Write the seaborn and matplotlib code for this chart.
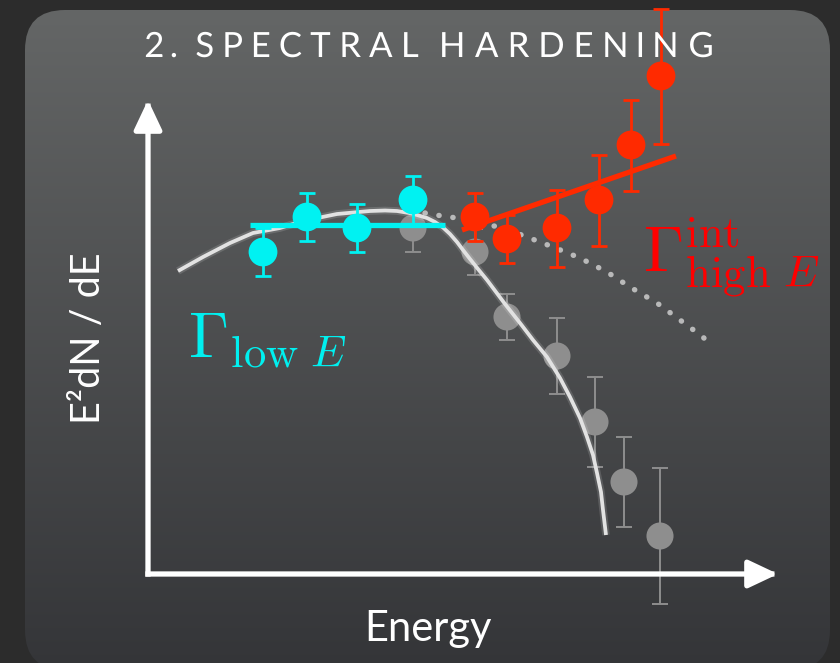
import numpy as np
import pandas as pd
import matplotlib
matplotlib.use("Agg")
import matplotlib.pyplot as plt
import seaborn as sns
from matplotlib.patches import FancyBboxPatch, FancyArrowPatch
from matplotlib.patheffects import AbstractPathEffect
from matplotlib.path import Path
from matplotlib.transforms import IdentityTransform

sns.set_theme(style="white")
plt.rcParams["font.family"] = ["Lato", "DejaVu Sans"]
plt.rcParams["mathtext.fontset"] = "cm"

W, H, DPI = 840, 663, 100

# Spectrum in arbitrary units: energy along x, E^2 dN/dE along y
low_energy = [11.5, 15.9, 20.9, 26.5]
low_flux = [32.2, 35.7, 34.6, 37.4]
low_err = [2.4, 2.4, 2.4, 2.4]

obs_energy = [26.5, 32.7, 35.9, 40.9, 44.7, 47.6, 51.2]
obs_flux = [34.6, 32.2, 25.7, 21.8, 15.2, 9.2, 3.8]
obs_err = [2.4, 2.3, 2.3, 3.8, 4.5, 4.5, 6.8]

int_energy = [32.7, 35.9, 40.9, 45.1, 48.3, 51.3]
int_flux = [35.7, 33.5, 34.6, 37.4, 42.9, 49.8]
int_err = [2.35, 2.4, 3.85, 4.55, 4.55, 6.75]

# Power-law fits to the low-energy and intrinsic high-energy points
low_fit_energy = [10.2, 29.7]
low_fit_flux = [34.9, 34.9]
high_fit_energy = [31.4, 52.8]
high_fit_flux = [34.4, 41.8]

# Observed model (with absorption cutoff) and unabsorbed continuation
model_energy = [3.0, 5.5, 8.2, 10.5, 13.2, 15.5, 18.9, 22.2, 23.7, 24.9, 26.4,
                27.9, 28.7, 29.5, 30.2, 30.9, 31.5, 32.2, 33.0, 33.9, 34.8, 35.7,
                37.2, 38.5, 39.9, 41.2, 42.2, 43.2, 43.9, 44.5, 44.9, 45.3, 45.5, 45.8]
model_flux = [30.3, 31.7, 33.1, 34.1, 34.6, 35.3, 36.0, 36.3, 36.35, 36.3, 36.05,
              35.6, 35.2, 34.65, 34.0, 33.2, 32.4, 31.5, 30.5, 29.4, 28.2, 27.0,
              25.1, 23.4, 21.7, 19.6, 17.7, 15.6, 13.7, 11.9, 10.1, 8.2, 6.4, 3.9]
unabs_energy = [27.7, 29.4, 30.9, 32.2, 35.2, 37.9, 40.5, 43.2, 45.9, 48.2,
                50.9, 53.2, 55.5, 56.2]
unabs_flux = [36.1, 35.8, 35.6, 35.2, 34.7, 33.7, 32.7, 31.6, 30.2, 28.7,
              27.1, 25.4, 23.7, 22.9]

title = "2. SPECTRAL HARDENING"
xlabel = "Energy"
ylabel = "E²dN / dE"
low_label = r"$\Gamma_{\mathrm{low}\ E}$"
high_label = r"$\Gamma^{\mathrm{int}}_{\mathrm{high}\ E}$"

CYAN = "#00f2f2"
RED = "#ff2a00"
GREY = "#8e8e8e"


class Tracking(AbstractPathEffect):
    """Spread the glyphs of a text path apart (letter spacing)."""

    def __init__(self, spread):
        super().__init__()
        self.spread = spread

    def draw_path(self, renderer, gc, tpath, affine, rgbFace=None):
        path = affine.transform_path(tpath)
        verts = path.vertices.copy()
        codes = path.codes
        if codes is None:
            renderer.draw_path(gc, path, IdentityTransform(), rgbFace)
            return
        real = codes != Path.CLOSEPOLY
        xmid = 0.5 * (verts[real, 0].min() + verts[real, 0].max())
        starts = list(np.flatnonzero(codes == Path.MOVETO)) + [len(codes)]
        for a, b in zip(starts[:-1], starts[1:]):
            seg = real[a:b]
            xs = verts[a:b, 0][seg]
            xc = 0.5 * (xs.min() + xs.max())
            verts[a:b, 0] += (xc - xmid) * self.spread
        renderer.draw_path(gc, Path(verts, codes), IdentityTransform(), rgbFace)


points = pd.concat([
    pd.DataFrame({"energy": obs_energy, "flux": obs_flux, "err": obs_err, "set": "observed"}),
    pd.DataFrame({"energy": low_energy, "flux": low_flux, "err": low_err, "set": "low"}),
    pd.DataFrame({"energy": int_energy, "flux": int_flux, "err": int_err, "set": "intrinsic"}),
], ignore_index=True)
model = pd.DataFrame({"energy": model_energy, "flux": model_flux})
unabs = pd.DataFrame({"energy": unabs_energy, "flux": unabs_flux})

fig = plt.figure(figsize=(W / DPI, H / DPI), dpi=DPI)
fig.patch.set_facecolor("#2c2c2c")

# Rounded slide panel with a vertical gradient
bg = fig.add_axes([0, 0, 1, 1])
bg.set_xlim(0, W)
bg.set_ylim(H, 0)
bg.axis("off")
panel = FancyBboxPatch((25, 10), 805, 660, boxstyle="round,pad=0,rounding_size=40",
                       facecolor="none", edgecolor="none")
bg.add_patch(panel)
t = np.linspace(0, 1, 256)[:, None]
top = np.array([100, 102, 102]) / 255
bot = np.array([52, 53, 56]) / 255
grad = (top[None, None, :] * (1 - t[..., None]) + bot[None, None, :] * t[..., None])
grad = np.repeat(grad, 4, axis=1)
im = bg.imshow(grad, extent=(25, 830, 670, 10), aspect="auto", interpolation="bicubic")
im.set_clip_path(panel)

ax = fig.add_axes([148 / W, (H - 574) / H, 630 / W, 474 / H])
ax.set_xlim(0, 63)
ax.set_ylim(0, 47.4)
ax.axis("off")
ax.patch.set_alpha(0)

# Observed points (behind the model curve)
obs = points[points["set"] == "observed"]
ax.errorbar(obs["energy"], obs["flux"], yerr=obs["err"], fmt="none", ecolor=GREY,
            elinewidth=1.4, capsize=6, capthick=1.4, zorder=2, clip_on=False)
sns.scatterplot(data=obs, x="energy", y="flux", color=GREY, s=380, edgecolor="none",
                ax=ax, zorder=2, clip_on=False, legend=False)

# Model curves with a soft glow
sns.lineplot(data=model, x="energy", y="flux", sort=False, color="white", lw=5.5,
             alpha=0.14, ax=ax, zorder=3, solid_capstyle="butt", solid_joinstyle="round")
sns.lineplot(data=model, x="energy", y="flux", sort=False, color="#e2e2e2", lw=2.7,
             ax=ax, zorder=3, solid_capstyle="butt", solid_joinstyle="round")
ax.plot(unabs["energy"], unabs["flux"], color="#cccccc", lw=3.9,
        linestyle=(0, (0.05, 2.55)), dash_capstyle="round", zorder=3, alpha=0.85)

# Low-energy points and fit
low = points[points["set"] == "low"]
ax.errorbar(low["energy"], low["flux"], yerr=low["err"], fmt="none", ecolor=CYAN,
            elinewidth=2, capsize=6, capthick=2, zorder=4, clip_on=False)
sns.scatterplot(data=low, x="energy", y="flux", color=CYAN, s=430, edgecolor="none",
                ax=ax, zorder=4, clip_on=False, legend=False)
ax.plot(low_fit_energy, low_fit_flux, color=CYAN, lw=3.8, zorder=5, solid_capstyle="butt")

# Intrinsic high-energy points and fit
hi = points[points["set"] == "intrinsic"]
ax.errorbar(hi["energy"], hi["flux"], yerr=hi["err"], fmt="none", ecolor=RED,
            elinewidth=2, capsize=6, capthick=2, zorder=6, clip_on=False)
sns.scatterplot(data=hi, x="energy", y="flux", color=RED, s=430, edgecolor="none",
                ax=ax, zorder=6, clip_on=False, legend=False)
ax.plot(high_fit_energy, high_fit_flux, color=RED, lw=3.8, zorder=7, solid_capstyle="butt")

# Axis arrows
for a, b in [((0, 0), (0, 1)), ((0, 0), (1, 0))]:
    arr = FancyArrowPatch(a, b, transform=ax.transAxes,
                          arrowstyle="-|>,head_length=18,head_width=8.5",
                          mutation_scale=1, lw=3.8, color="white", capstyle="projecting",
                          shrinkA=0, shrinkB=0, clip_on=False, zorder=8)
    ax.add_patch(arr)

fig.text(429 / W, 1 - 57 / H, title, color="white", fontsize=25, ha="center",
         va="baseline", path_effects=[Tracking(0.38)])
fig.text(428 / W, 1 - 641 / H, xlabel, color="white", fontsize=30, ha="center",
         va="baseline")
fig.text(88 / W, 1 - 338 / H, ylabel, color="white", fontsize=28.5, ha="center",
         va="center", rotation=90)
fig.text(188 / W, 1 - 358 / H, low_label, color="#00f0f0", fontsize=46,
         ha="left", va="baseline")
fig.text(643 / W, 1 - 272 / H, high_label, color="#ff0000", fontsize=46,
         ha="left", va="baseline")

fig.savefig("out.png", dpi=DPI, facecolor=fig.get_facecolor())
